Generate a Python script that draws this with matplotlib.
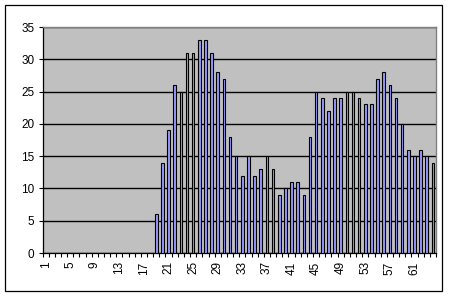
# Istogramma stile Excel: 64 categorie, barre azzurre su fondo grigio
import numpy as np
import matplotlib
matplotlib.use("Agg")
import matplotlib.pyplot as plt
from matplotlib.patches import Rectangle

categorie = list(range(1, 65))
valori = [0] * 18 + [
    6, 14, 19, 26, 25, 31, 31, 33, 33, 31, 28, 27, 18,
    15, 12, 15, 12, 13, 15, 13, 9, 10, 11, 11, 9, 18,
    25, 24, 22, 24, 24, 25, 25, 24, 23, 23, 27, 28, 26, 24,
    20, 16, 15, 16, 15, 14]
etichette_x = list(range(1, 65, 4))
tick_y = list(range(0, 40, 5))

plt.rcParams["font.family"] = ["Liberation Sans", "DejaVu Sans"]

fig = plt.figure(figsize=(4.53, 2.97), dpi=100)
fig.patch.set_facecolor("white")
fig.patches.append(Rectangle((5 / 453, 1 - 291 / 297), 437 / 453, 286 / 297,
                             transform=fig.transFigure, fill=False,
                             edgecolor="black", linewidth=0.9))

ax = fig.add_axes([42.5 / 453, 1 - 253 / 297, (436 - 42.5) / 453, (253 - 27) / 297])
ax.set_facecolor("#C0C0C0")

# barre nulle non disegnate (Excel non mostra barre a zero)
x = np.array(categorie)
v = np.array(valori)
mask = v > 0
ax.bar(x[mask], v[mask], width=0.42, color="#9999FF", edgecolor="black",
       linewidth=0.8, zorder=3)

ax.set_xlim(0.5, 64.5)
ax.set_ylim(0, 35)
ax.set_yticks(tick_y)
ax.yaxis.grid(True, color="black", linewidth=1.0, zorder=1)
ax.set_axisbelow(True)

ax.set_xticks(etichette_x)
ax.set_xticklabels([str(e) for e in etichette_x], rotation=90)
ax.set_xticks(np.arange(0.5, 65, 1), minor=True)
ax.tick_params(axis="x", which="major", length=0, pad=6, labelsize=8.5)
ax.tick_params(axis="x", which="minor", length=3, width=0.8, direction="out")
ax.tick_params(axis="y", length=3, width=0.8, pad=3, labelsize=8.5)

for lato in ["top", "right"]:
    ax.spines[lato].set_color("#808080")
    ax.spines[lato].set_linewidth(1.0)
for lato in ["left", "bottom"]:
    ax.spines[lato].set_color("black")
    ax.spines[lato].set_linewidth(0.9)

plt.savefig("out.png", dpi=100)
